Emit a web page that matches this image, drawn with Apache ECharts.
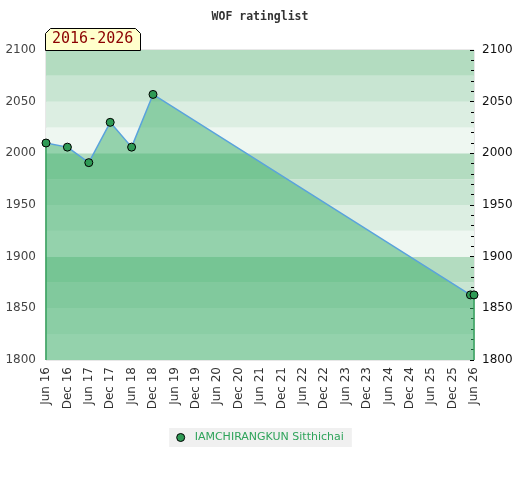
<!DOCTYPE html>
<html lang="en">
<head>
  <meta charset="UTF-8" />
  <title>WOF ratinglist</title>
  <script src="https://cdn.jsdelivr.net/npm/echarts@6/dist/echarts.min.js"></script>
  <style>
    body { margin: 0; background: #fff; }
    #chart { width: 520px; height: 480px; }
  </style>
</head>
<body>
  <div id="chart"></div>
  <script>
    // tick labels on the x axis, one every 6 months
    const periods = ['Jun 16', 'Dec 16', 'Jun 17', 'Dec 17', 'Jun 18', 'Dec 18', 'Jun 19', 'Dec 19',
      'Jun 20', 'Dec 20', 'Jun 21', 'Dec 21', 'Jun 22', 'Dec 22', 'Jun 23', 'Dec 23',
      'Jun 24', 'Dec 24', 'Jun 25', 'Dec 25', 'Jun 26'];
    // months since Jun 16 for each rating
    const months = [0, 6, 12, 18, 24, 30, 119, 120];
    const ratings = [2010, 2006, 1991, 2030, 2006, 2057, 1863, 1863];
    const playerName = 'IAMCHIRANGKUN Sitthichai';
    const rangeLabel = '2016-2026';
    const yMin = 1800, yMax = 2100;

    const chart = echarts.init(document.getElementById('chart'));

    const points = months.map((m, i) => [m, ratings[i]]);
    const last = points.length - 1;
    // vertical edges of the filled area
    const edgeLeft = [[months[0], yMin], [months[0], ratings[0]]];
    const edgeRight = [[months[last], yMin], [months[last], ratings[last]]];

    const edgeSeries = data => ({
      type: 'line', data: data, symbol: 'none', silent: true,
      lineStyle: { color: '#2f9a55', width: 1.5 }, z: 3
    });

    chart.setOption({
      animation: false,
      title: {
        text: 'WOF ratinglist', left: 'center', top: 6,
        textStyle: { fontFamily: 'DejaVu Sans Mono', fontSize: 11.5, fontWeight: 'bold', color: '#333' }
      },
      graphic: [{
        type: 'polygon', left: 45, top: 28, z: 10,
        shape: { points: [[5, 0], [90, 0], [95, 5], [95, 22], [0, 22], [0, 5]] },
        style: { fill: '#ffffcc', stroke: '#000', lineWidth: 1 }
      }, {
        type: 'text', left: 52, top: 32, z: 11,
        style: { text: rangeLabel, fill: '#8b0000', font: '15px "DejaVu Sans Mono"' }
      }],
      legend: {
        bottom: 33, left: 'center',
        data: [playerName],
        backgroundColor: '#f0f0f0', padding: [4, 8, 4, 7],
        itemWidth: 8, itemHeight: 8, icon: 'circle',
        itemStyle: { borderColor: '#000', borderWidth: 1 },
        textStyle: { color: '#2ea35a', fontFamily: 'DejaVu Sans', fontSize: 11, padding: [0, 0, 0, 5] }
      },
      grid: { left: 46, right: 46, top: 50, bottom: 120, show: true, borderColor: '#d0d0d0', borderWidth: 1 },
      xAxis: {
        type: 'value', min: 0, max: 120, interval: 6,
        axisLine: { show: false }, axisTick: { show: false }, splitLine: { show: false },
        axisLabel: {
          rotate: 90, margin: 7, color: '#333', fontFamily: 'DejaVu Sans', fontSize: 12,
          formatter: v => periods[v / 6] || ''
        }
      },
      yAxis: [{
        type: 'value', min: yMin, max: yMax, interval: 25, position: 'left',
        axisLine: { show: false }, axisTick: { show: false }, splitLine: { show: false },
        splitArea: { show: true, areaStyle: { color: ['#eef7f1', '#dceee2', '#c8e5d2', '#b3dcc0'] } },
        axisLabel: {
          margin: 10, color: '#444', fontFamily: 'DejaVu Sans', fontSize: 12,
          formatter: v => (v % 50 === 0 ? String(v) : '')
        }
      }, {
        type: 'value', min: yMin, max: yMax, interval: 50, position: 'right',
        axisLine: { show: false }, splitLine: { show: false },
        axisTick: { show: true, inside: true, length: 4, lineStyle: { color: '#000' } },
        minorTick: { show: true, splitNumber: 5, length: 3, lineStyle: { color: '#000' } },
        axisLabel: { margin: 8, color: '#111', fontFamily: 'DejaVu Sans', fontSize: 12, formatter: v => String(v) }
      }],
      series: [{
        name: playerName, type: 'line', data: points,
        symbol: 'circle', symbolSize: 8,
        itemStyle: { color: '#2f9a55', borderColor: '#000', borderWidth: 1 },
        lineStyle: { color: '#5aa3dc', width: 1.5 },
        areaStyle: { color: 'rgb(58,174,104)', opacity: 0.5, origin: 'start' },
        z: 4
      }, edgeSeries(edgeLeft), edgeSeries(edgeRight)]
    });
  </script>
</body>
</html>
